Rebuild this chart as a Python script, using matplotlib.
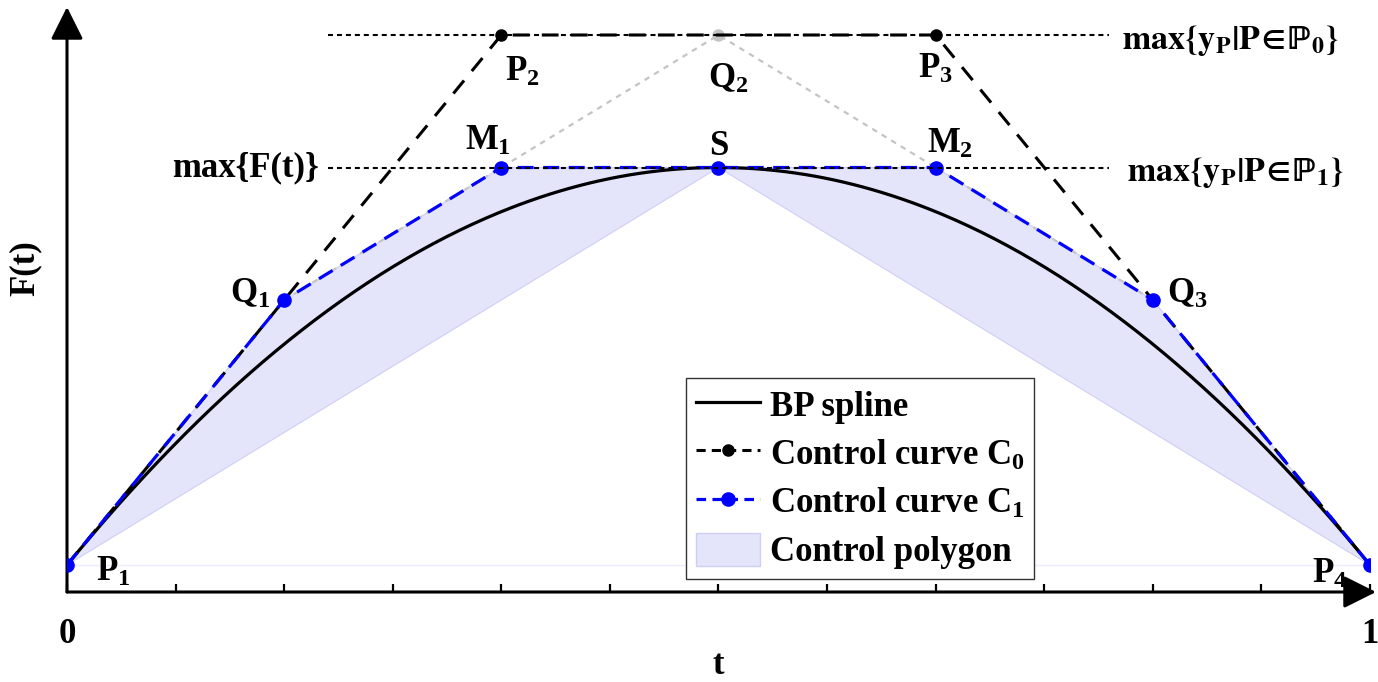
import numpy as np
import matplotlib
matplotlib.use("Agg")
import matplotlib.pyplot as plt
from matplotlib.lines import Line2D
from matplotlib.patches import Patch, Polygon

plt.rcParams.update({
    "font.family": ["Liberation Serif", "DejaVu Serif"],
    "font.weight": "bold",
    "mathtext.fontset": "custom",
    "mathtext.rm": "Liberation Serif:bold",
    "mathtext.it": "Liberation Serif:bold",
    "mathtext.bf": "Liberation Serif:bold",
    "mathtext.fallback": "stix",
})

# Control points of the cubic BP spline
ctrl_t = [0.0, 1 / 3, 2 / 3, 1.0]
ctrl_y = [0.0, 1.0, 1.0, 0.0]
tick_vals = [k / 12 for k in range(13)]
tick_labels = ["0"] + [""] * 11 + ["1"]
level_span = [0.2, 0.8]

# de Casteljau subdivision at t = 1/2
P = np.column_stack([ctrl_t, ctrl_y])
Q = (P[:-1] + P[1:]) / 2
M = (Q[:-1] + Q[1:]) / 2
S = (M[0] + M[1]) / 2

# Bernstein form of the spline
tt = np.linspace(0, 1, 400)
basis = np.stack([(1 - tt) ** 3, 3 * tt * (1 - tt) ** 2, 3 * tt ** 2 * (1 - tt), tt ** 3])
curve = basis.T @ P

C1 = np.vstack([P[0], Q[0], M[0], S, M[1], Q[2], P[3]])
left_poly = np.vstack([P[0], Q[0], M[0], S])
right_poly = np.vstack([S, M[1], Q[2], P[3]])

W, H = 1378, 682
fig = plt.figure(figsize=(W / 100, H / 100), dpi=100)
ax = fig.add_axes([67 / W, 90 / H, 1303 / W, 585 / H])
ax.set_xlim(0, 1)
ax.set_ylim(-27 / 530, 558 / 530)

FS = 25
BLUE = "#0000ff"
FILL = "#e4e4fb"
FILL_EDGE = "#cfcff6"

# control polygon
for poly in (left_poly, right_poly):
    ax.add_patch(Polygon(poly, closed=True, facecolor=FILL, edgecolor=FILL_EDGE, lw=0.8, zorder=1))
ax.plot([P[0, 0], P[3, 0]], [P[0, 1], P[3, 1]], color="#ececfc", lw=1, zorder=1)

# spline
ax.plot(curve[:, 0], curve[:, 1], color="black", lw=2.3, zorder=3)

# gray construction line through Q points
ax.plot(Q[:, 0], Q[:, 1], color="#c4c4c4", lw=1.6, ls=(0, (2.5, 2.5)), zorder=2)
ax.plot([Q[1, 0]], [Q[1, 1]], "o", color="#c4c4c4", ms=8, zorder=2)

# control curve C0
ax.plot(P[:, 0], P[:, 1], color="black", lw=2.2, ls=(0, (5.5, 4)), marker="o", ms=8, zorder=4)

# control curve C1
ax.plot(C1[:, 0], C1[:, 1], color=BLUE, lw=2.3, ls=(0, (5, 3)), marker="o", ms=9.5, zorder=5)

# reference levels
for lvl in (P[1, 1], S[1]):
    ax.plot(level_span, [lvl, lvl], color="black", lw=1.5, ls=(0, (2.4, 1.9)), zorder=6)

# point labels
point_labels = [
    ("$P_1$", P[0], (33, -5)),
    ("$P_2$", P[1], (15, -27)),
    ("$Q_2$", Q[1], (7, -32)),
    ("$P_3$", P[2], (0, -25)),
    ("$M_1$", M[0], (-10, 19)),
    ("S", S, (0, 15)),
    ("$M_2$", M[1], (10, 17)),
    ("$Q_1$", Q[0], (-24.5, 4)),
    ("$Q_3$", Q[2], (24.5, 4)),
    ("$P_4$", P[3], (-29.5, -6.5)),
]
for txt, pt, off in point_labels:
    ax.annotate(txt, xy=pt, xytext=off, textcoords="offset points",
                ha="center", va="center", fontsize=FS, fontweight="bold", zorder=7)

ax.text(level_span[0] - 0.007, S[1], "max{F(t)}", ha="right", va="center", fontsize=FS, fontweight="bold")
for lvl, idx, dx in ((P[1, 1], 0, 0.0097), (S[1], 1, 0.0135)):
    ax.text(level_span[1] + dx, lvl - 0.01,
            r"$\mathbf{max\{y_P|P}\!\in\!\mathrm{ℙ}_\mathbf{%d}\mathbf{\}}$" % idx,
            ha="left", va="center", fontsize=24.5, math_fontfamily="stix")

# axes with arrows
for s in ax.spines.values():
    s.set_visible(False)
arrow_kw = dict(arrowstyle="-|>,head_length=20,head_width=10", lw=2.2, color="black",
                shrinkA=0, shrinkB=0, mutation_scale=1)
ax.annotate("", xy=(1.0046, 0), xytext=(0, 0), xycoords="axes fraction",
            textcoords="axes fraction", arrowprops=arrow_kw, annotation_clip=False)
ax.annotate("", xy=(0, 1.0), xytext=(0, 0), xycoords="axes fraction",
            textcoords="axes fraction", arrowprops=arrow_kw, annotation_clip=False)

ax.set_xticks(tick_vals)
ax.set_xticklabels(tick_labels, fontsize=FS, fontweight="bold")
ax.tick_params(axis="x", direction="in", length=6, width=1.6, pad=19)
ax.set_yticks([])

fig.text(25 / W, 1 - 268 / H, "F(t)", rotation=90, ha="center", va="center", fontsize=FS, fontweight="bold")
fig.text(718 / W, 1 - 666 / H, "t", ha="center", va="center", fontsize=FS, fontweight="bold")

handles = [
    Line2D([], [], color="black", lw=2.3),
    Line2D([], [], color="black", lw=2.2, ls=(0, (3, 2)), marker="o", ms=8),
    Line2D([], [], color=BLUE, lw=2.3, ls=(0, (3, 2)), marker="o", ms=9.5),
    Patch(facecolor=FILL, edgecolor=FILL_EDGE),
]
labels = ["BP spline", "Control curve $C_0$", "Control curve $C_1$", "Control polygon"]
leg = fig.legend(handles, labels, loc="upper left", bbox_to_anchor=(686 / W, 1 - 378 / H),
                 bbox_transform=fig.transFigure, borderaxespad=0, fancybox=False, framealpha=1,
                 edgecolor="#333333", prop={"size": FS, "weight": "bold"},
                 handlelength=1.85, handleheight=1.1, handletextpad=0.28, labelspacing=0.34,
                 borderpad=0.28)
leg.get_frame().set_linewidth(1.0)

fig.savefig("out.png", dpi=100)
